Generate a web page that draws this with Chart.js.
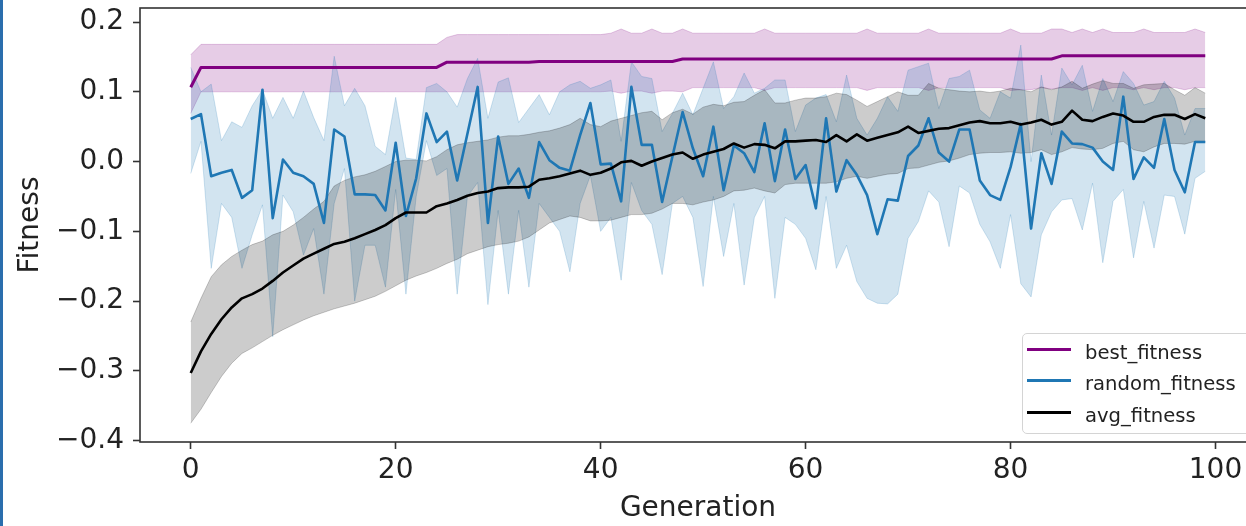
<!DOCTYPE html>
<html>
<head>
<meta charset="utf-8">
<script src="https://cdn.jsdelivr.net/npm/chart.js@4.4.0/dist/chart.umd.min.js"></script>
<style>
  html, body { margin: 0; padding: 0; background: #fff; overflow: hidden; }
  body { width: 1246px; height: 526px; position: relative; }
  #fitnessChart { position: absolute; left: 0; top: 0; }
  #edgeBar { position: absolute; left: 0; top: 0; width: 3px; height: 526px; background: #2a6ead; z-index: 2; }
  #legend {
    position: absolute; left: 1022px; top: 333px; width: 232px; height: 101px;
    box-sizing: border-box; border: 1px solid #d4d4d4; border-radius: 5px;
    background: rgba(255,255,255,0.8); font-family: 'DejaVu Sans'; font-size: 19.6px; color: #222;
  }
  #legend .row { position: absolute; left: 0; height: 31.5px; display: flex; align-items: center; white-space: nowrap; }
  #legend .swatch { width: 44px; height: 3px; margin-left: 4px; margin-right: 14px; }
  #legend .txt { position: relative; top: 3px; }
</style>
</head>
<body>
<div id="edgeBar"></div>
<canvas id="fitnessChart" width="1270" height="526"></canvas>
<div id="legend"></div>
<script>
// Data
const generations = [0,1,2,3,4,5,6,7,8,9,10,11,12,13,14,15,16,17,18,19,20,21,22,23,24,25,26,27,28,29,30,31,32,33,34,35,36,37,38,39,40,41,42,43,44,45,46,47,48,49,50,51,52,53,54,55,56,57,58,59,60,61,62,63,64,65,66,67,68,69,70,71,72,73,74,75,76,77,78,79,80,81,82,83,84,85,86,87,88,89,90,91,92,93,94,95,96,97,98,99];

const bestMean = [0.1065,0.135,0.135,0.135,0.135,0.135,0.135,0.135,0.135,0.135,0.135,0.135,0.135,0.135,0.135,0.135,0.135,0.135,0.135,0.135,0.135,0.135,0.135,0.135,0.135,0.1425,0.1425,0.1425,0.1425,0.1425,0.1425,0.1425,0.1425,0.1425,0.1435,0.1435,0.1435,0.1435,0.1435,0.1435,0.1435,0.1435,0.1435,0.1435,0.1435,0.1435,0.1435,0.1435,0.147,0.147,0.147,0.147,0.147,0.147,0.147,0.147,0.147,0.147,0.147,0.147,0.147,0.147,0.147,0.147,0.147,0.147,0.147,0.147,0.147,0.147,0.147,0.147,0.147,0.147,0.147,0.147,0.147,0.147,0.147,0.147,0.147,0.147,0.147,0.147,0.147,0.1515,0.1515,0.1515,0.1515,0.1515,0.1515,0.1515,0.1515,0.1515,0.1515,0.1515,0.1515,0.1515,0.1515,0.1515];
const bestUpper = [0.153,0.168,0.168,0.168,0.168,0.168,0.168,0.168,0.168,0.168,0.168,0.168,0.168,0.168,0.168,0.168,0.168,0.168,0.168,0.168,0.168,0.168,0.168,0.168,0.168,0.178,0.182,0.182,0.182,0.182,0.182,0.182,0.182,0.182,0.182,0.182,0.182,0.182,0.182,0.182,0.182,0.184,0.19,0.184,0.184,0.19,0.184,0.184,0.19,0.184,0.184,0.184,0.184,0.184,0.184,0.184,0.19,0.184,0.184,0.184,0.184,0.184,0.184,0.184,0.184,0.184,0.19,0.184,0.184,0.184,0.184,0.184,0.19,0.184,0.184,0.184,0.184,0.184,0.184,0.184,0.19,0.184,0.184,0.184,0.19,0.19,0.185,0.19,0.185,0.19,0.185,0.185,0.185,0.19,0.185,0.185,0.185,0.185,0.19,0.185];
const bestLower = [0.069,0.1,0.1,0.1,0.1,0.1,0.1,0.1,0.1,0.1,0.1,0.1,0.1,0.1,0.1,0.1,0.1,0.1,0.1,0.1,0.1,0.1,0.1,0.1,0.1,0.1,0.1,0.1,0.1,0.1,0.1,0.1,0.1,0.1,0.1,0.1,0.1,0.1,0.1,0.1,0.1,0.101,0.098,0.101,0.101,0.098,0.101,0.101,0.1,0.106,0.106,0.106,0.106,0.106,0.106,0.106,0.102,0.106,0.106,0.106,0.106,0.106,0.106,0.106,0.106,0.106,0.102,0.106,0.106,0.106,0.106,0.106,0.102,0.106,0.106,0.106,0.106,0.106,0.106,0.106,0.102,0.103,0.103,0.106,0.104,0.106,0.106,0.102,0.106,0.102,0.106,0.106,0.103,0.106,0.103,0.106,0.106,0.103,0.106,0.106];

const randMean = [0.061,0.068,-0.021,-0.016,-0.012,-0.052,-0.041,0.103,-0.081,0.003,-0.016,-0.021,-0.032,-0.088,0.046,0.036,-0.047,-0.047,-0.048,-0.07,0.027,-0.078,-0.024,0.069,0.028,0.043,-0.027,0.04,0.107,-0.088,0.036,-0.032,-0.01,-0.052,0.028,0.002,-0.009,-0.013,0.038,0.084,-0.004,-0.003,-0.057,0.107,0.024,0.024,-0.058,0.007,0.071,0.019,-0.021,0.05,-0.041,0.023,0.012,-0.015,0.055,-0.028,0.046,-0.025,-0.005,-0.067,0.062,-0.043,0.002,-0.019,-0.048,-0.104,-0.054,-0.056,0.008,0.023,0.062,0.013,0.0,0.046,0.046,-0.027,-0.048,-0.055,-0.008,0.054,-0.096,0.012,-0.032,0.043,0.026,0.025,0.02,0.0,-0.012,0.093,-0.025,0.006,-0.009,0.061,-0.012,-0.044,0.028,0.028];
const randUpper = [0.135,0.1,0.111,0.03,0.057,0.049,0.08,0.103,0.062,0.092,0.062,0.101,0.063,0.03,0.151,0.08,0.105,0.08,0.022,0.01,0.092,0.005,0.003,0.106,0.112,0.1,0.078,0.119,0.148,0.062,0.114,0.12,0.056,0.076,0.096,0.067,0.1,0.11,0.115,0.105,0.11,0.117,0.029,0.143,0.122,0.119,0.043,0.069,0.098,0.067,0.105,0.143,0.076,0.093,0.127,0.098,0.105,0.117,0.117,0.043,0.081,0.091,0.096,0.057,0.124,0.062,0.038,0.062,0.093,0.072,0.131,0.136,0.141,0.076,0.119,0.122,0.131,0.074,0.062,0.1,0.091,0.167,0.0,0.124,0.038,0.134,0.11,0.138,0.072,0.119,0.086,0.129,0.112,0.081,0.086,0.115,0.091,0.038,0.076,0.076];
const randLower = [-0.017,0.029,-0.153,-0.06,-0.08,-0.153,-0.105,-0.062,-0.251,-0.048,-0.072,-0.134,-0.096,-0.19,-0.06,-0.01,-0.2,-0.12,-0.12,-0.18,-0.04,-0.19,-0.05,0.03,-0.02,-0.01,-0.19,-0.05,-0.03,-0.205,-0.07,-0.19,-0.07,-0.18,-0.06,-0.08,-0.1,-0.158,-0.06,-0.02,-0.1,-0.08,-0.17,-0.03,-0.07,-0.09,-0.162,-0.06,-0.05,-0.08,-0.179,-0.05,-0.136,-0.06,-0.177,-0.08,-0.05,-0.196,-0.08,-0.09,-0.11,-0.155,-0.05,-0.153,-0.12,-0.172,-0.196,-0.203,-0.204,-0.19,-0.11,-0.086,-0.042,-0.058,-0.122,-0.035,-0.045,-0.09,-0.115,-0.153,-0.076,-0.175,-0.194,-0.105,-0.072,-0.055,-0.053,-0.098,-0.031,-0.145,-0.057,-0.04,-0.138,-0.057,-0.124,-0.048,-0.05,-0.104,-0.024,-0.014];

const avgMean = [-0.303,-0.272,-0.247,-0.226,-0.209,-0.196,-0.19,-0.182,-0.171,-0.159,-0.149,-0.139,-0.132,-0.125,-0.118,-0.115,-0.11,-0.104,-0.098,-0.091,-0.081,-0.073,-0.073,-0.073,-0.064,-0.06,-0.055,-0.049,-0.045,-0.043,-0.038,-0.037,-0.037,-0.036,-0.026,-0.024,-0.021,-0.017,-0.013,-0.019,-0.016,-0.01,-0.001,0.001,-0.006,0.0,0.005,0.01,0.013,0.004,0.01,0.014,0.018,0.026,0.02,0.025,0.024,0.019,0.029,0.029,0.03,0.031,0.028,0.038,0.029,0.039,0.03,0.034,0.038,0.042,0.05,0.041,0.044,0.047,0.048,0.052,0.056,0.058,0.055,0.055,0.057,0.053,0.056,0.06,0.053,0.057,0.073,0.06,0.058,0.064,0.069,0.066,0.057,0.057,0.064,0.067,0.067,0.061,0.068,0.062];
const avgUpper = [-0.23,-0.196,-0.165,-0.148,-0.136,-0.127,-0.119,-0.114,-0.105,-0.1,-0.091,-0.08,-0.068,-0.057,-0.035,-0.027,-0.022,-0.019,-0.014,-0.007,0.0,0.002,0.002,0.001,0.007,0.017,0.024,0.027,0.029,0.031,0.035,0.037,0.037,0.039,0.042,0.044,0.048,0.053,0.062,0.053,0.05,0.058,0.062,0.066,0.07,0.072,0.06,0.07,0.075,0.068,0.078,0.082,0.08,0.085,0.086,0.095,0.103,0.084,0.084,0.088,0.091,0.091,0.093,0.098,0.096,0.088,0.079,0.086,0.093,0.1,0.095,0.095,0.112,0.105,0.103,0.101,0.1,0.101,0.099,0.101,0.105,0.103,0.1,0.107,0.103,0.107,0.115,0.105,0.111,0.116,0.112,0.112,0.105,0.11,0.111,0.112,0.103,0.095,0.106,0.098];
const avgLower = [-0.375,-0.355,-0.331,-0.308,-0.289,-0.275,-0.267,-0.258,-0.249,-0.241,-0.234,-0.227,-0.221,-0.216,-0.211,-0.207,-0.203,-0.198,-0.193,-0.186,-0.178,-0.17,-0.164,-0.159,-0.153,-0.146,-0.14,-0.132,-0.127,-0.122,-0.119,-0.117,-0.114,-0.108,-0.098,-0.088,-0.083,-0.078,-0.08,-0.085,-0.085,-0.084,-0.08,-0.076,-0.076,-0.074,-0.068,-0.06,-0.06,-0.062,-0.058,-0.055,-0.05,-0.042,-0.041,-0.038,-0.042,-0.045,-0.033,-0.031,-0.031,-0.031,-0.031,-0.029,-0.024,-0.021,-0.024,-0.021,-0.018,-0.017,-0.01,-0.009,-0.005,-0.001,0.001,0.005,0.01,0.012,0.013,0.013,0.014,0.012,0.013,0.017,0.01,0.014,0.02,0.018,0.017,0.019,0.026,0.029,0.017,0.014,0.021,0.026,0.026,0.025,0.029,0.029];

const xTicks = [0, 20, 40, 60, 80, 100];
const yTicks = [-0.4, -0.3, -0.2, -0.1, 0.0, 0.1, 0.2];

const COLORS = {
  best: '#800080', bestFill: 'rgba(128,0,128,0.2)',
  rand: '#1f77b4', randFill: 'rgba(31,119,180,0.2)',
  avg: '#000000', avgFill: 'rgba(0,0,0,0.2)',
  text: '#222222', spine: '#333333'
};
const FONT = { family: 'DejaVu Sans', size: 28 };

function lineSet(label, data, color, width) {
  return { label, data, borderColor: color, backgroundColor: color, borderWidth: width,
           pointRadius: 0, fill: false, borderJoinStyle: 'round', isLegend: true };
}
function bandSet(data, color, fill) {
  return { data, borderColor: color, backgroundColor: color, borderWidth: 1, pointRadius: 0, fill };
}

// frame around the axes (matplotlib spines)
const frame = {
  id: 'frame',
  afterDatasetsDraw(chart) {
    const { ctx, chartArea: a } = chart;
    ctx.save();
    ctx.strokeStyle = COLORS.spine;
    ctx.lineWidth = 1.6;
    ctx.strokeRect(a.left, a.top, a.right - a.left, a.bottom - a.top);
    ctx.restore();
  }
};

const tickGrid = { drawOnChartArea: false, drawTicks: true, tickLength: 7, tickWidth: 1.6, tickColor: COLORS.spine };

// keep the plot box where the original has it, labels may overhang
function fixX(s) { s.height = 84; s.paddingLeft = 0; s.paddingRight = 0; }
function fixY(s) { s.width = 140; s.paddingTop = 0; s.paddingBottom = 0; }

const chart = new Chart(document.getElementById('fitnessChart'), {
  type: 'line',
  data: {
    labels: generations,
    datasets: [
      // lines first so they sit on top of every band
      lineSet('avg_fitness', avgMean, COLORS.avg, 2.6),
      lineSet('random_fitness', randMean, COLORS.rand, 2.6),
      lineSet('best_fitness', bestMean, COLORS.best, 3),
      bandSet(avgLower, COLORS.avgFill, '+1'),
      bandSet(avgUpper, COLORS.avgFill, false),
      bandSet(randLower, COLORS.randFill, '+1'),
      bandSet(randUpper, COLORS.randFill, false),
      bandSet(bestLower, COLORS.bestFill, '+1'),
      bandSet(bestUpper, COLORS.bestFill, false)
    ]
  },
  options: {
    responsive: false,
    animation: false,
    devicePixelRatio: 1,
    layout: { padding: { top: 8, right: 14, left: 0, bottom: 0 } },
    elements: { line: { tension: 0 } },
    plugins: { legend: { display: false }, tooltip: { enabled: false }, filler: { propagate: false } },
    scales: {
      x: {
        type: 'linear', min: -4.95, max: 103.95,
        afterFit: fixX,
        afterBuildTicks: s => { s.ticks = xTicks.map(v => ({ value: v })); },
        grid: tickGrid,
        border: { display: false },
        ticks: { padding: 5, font: FONT, color: COLORS.text, maxRotation: 0, autoSkip: false, callback: v => String(v) },
        title: { display: true, text: 'Generation', font: FONT, color: COLORS.text, padding: { top: 0, bottom: 0 } }
      },
      y: {
        min: -0.4019, max: 0.2201,
        afterFit: fixY,
        afterBuildTicks: s => { s.ticks = yTicks.map(v => ({ value: v })); },
        grid: tickGrid,
        border: { display: false },
        ticks: { padding: 9, font: FONT, color: COLORS.text, autoSkip: false,
                 callback: v => (v < -1e-9 ? '\u2212' : '') + Math.abs(v).toFixed(1) },
        title: { display: true, text: 'Fitness', font: FONT, color: COLORS.text, padding: { top: 14, bottom: 0 } }
      }
    }
  },
  plugins: [frame]
});

// Legend, same order as the original: best, random, avg
const legendEl = document.getElementById('legend');
chart.data.datasets.filter(d => d.isLegend).reverse().forEach((d, i) => {
  legendEl.innerHTML += `<div class="row" style="top:${-0.75 + i * 31.5}px">
    <span class="swatch" style="background:${d.borderColor}"></span><span class="txt">${d.label}</span></div>`;
});
</script>
</body>
</html>
